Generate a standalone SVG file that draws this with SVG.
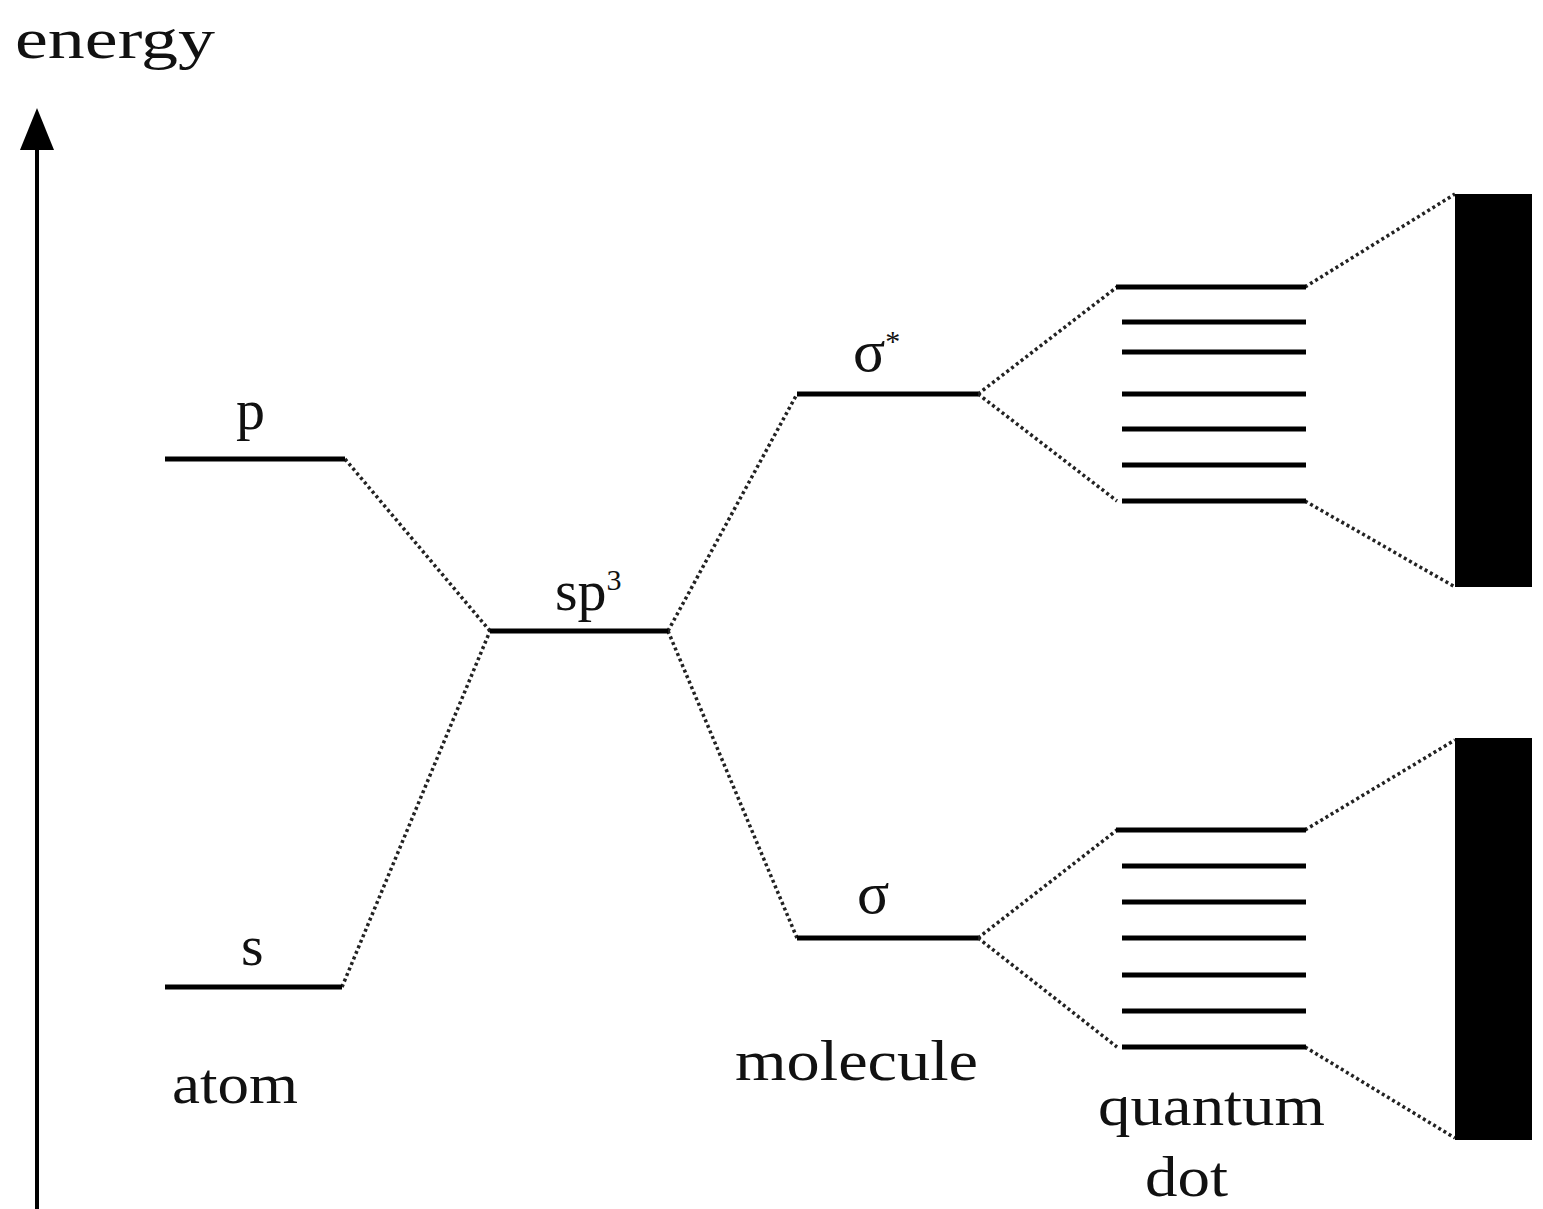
<svg xmlns="http://www.w3.org/2000/svg" width="1543" height="1209" viewBox="0 0 1543 1209">
<style>
text{font-family:"Liberation Serif","Times New Roman",serif;fill:#111;}
.lvl{stroke:#000;stroke-width:5;fill:none;}
.dot{stroke:#222;stroke-width:3.5;stroke-dasharray:3 3;fill:none;}
.band{fill:#000;}
</style>
<rect width="1543" height="1209" fill="#fff"/>
<g id="axis">
<line x1="37" y1="1209" x2="37" y2="140" stroke="#000" stroke-width="4"/>
<polygon points="37,108 20,150 54,150" fill="#000"/>
<text x="15" y="58" font-size="58" textLength="200" lengthAdjust="spacingAndGlyphs">energy</text>
</g>
<g id="connectors">
<line class="dot" x1="345" y1="459" x2="490" y2="631"/>
<line class="dot" x1="342" y1="987" x2="490" y2="631"/>
<line class="dot" x1="668" y1="631" x2="797" y2="394"/>
<line class="dot" x1="668" y1="631" x2="797" y2="938"/>
<line class="dot" x1="978" y1="394" x2="1117" y2="287"/>
<line class="dot" x1="978" y1="394" x2="1117" y2="501"/>
<line class="dot" x1="1305" y1="287" x2="1455" y2="194"/>
<line class="dot" x1="1305" y1="501" x2="1455" y2="587"/>
<line class="dot" x1="978" y1="938" x2="1117" y2="830"/>
<line class="dot" x1="978" y1="938" x2="1117" y2="1047"/>
<line class="dot" x1="1305" y1="830" x2="1455" y2="740"/>
<line class="dot" x1="1305" y1="1047" x2="1455" y2="1138"/>
</g>
<g id="atom-p">
<line class="lvl" x1="165" y1="459" x2="345" y2="459"/>
<text x="236" y="429" font-size="58">p</text>
</g>
<g id="atom-s">
<line class="lvl" x1="165" y1="987" x2="342" y2="987"/>
<text x="241" y="965" font-size="58">s</text>
</g>
<g id="sp3">
<line class="lvl" x1="490" y1="631" x2="668" y2="631"/>
<text x="555" y="610" font-size="58">sp<tspan font-size="30" dy="-20">3</tspan></text>
</g>
<g id="sigma-star">
<line class="lvl" x1="797" y1="394" x2="978" y2="394"/>
<text x="853" y="371" font-size="60">σ<tspan font-size="30" dy="-20">*</tspan></text>
</g>
<g id="sigma">
<line class="lvl" x1="797" y1="938" x2="978" y2="938"/>
<text x="857" y="913" font-size="60">σ</text>
</g>
<g id="qd-upper">
<line class="lvl" x1="1116" y1="287" x2="1306" y2="287"/>
<line class="lvl" x1="1122" y1="322" x2="1306" y2="322"/>
<line class="lvl" x1="1122" y1="352" x2="1306" y2="352"/>
<line class="lvl" x1="1122" y1="394" x2="1306" y2="394"/>
<line class="lvl" x1="1122" y1="429" x2="1306" y2="429"/>
<line class="lvl" x1="1122" y1="465" x2="1306" y2="465"/>
<line class="lvl" x1="1122" y1="501" x2="1306" y2="501"/>
</g>
<g id="qd-lower">
<line class="lvl" x1="1116" y1="830" x2="1306" y2="830"/>
<line class="lvl" x1="1122" y1="866" x2="1306" y2="866"/>
<line class="lvl" x1="1122" y1="902" x2="1306" y2="902"/>
<line class="lvl" x1="1122" y1="938" x2="1306" y2="938"/>
<line class="lvl" x1="1122" y1="975" x2="1306" y2="975"/>
<line class="lvl" x1="1122" y1="1011" x2="1306" y2="1011"/>
<line class="lvl" x1="1122" y1="1047" x2="1306" y2="1047"/>
</g>
<g id="band-upper"><rect class="band" x="1455" y="194" width="77" height="393"/></g>
<g id="band-lower"><rect class="band" x="1455" y="738" width="77" height="402"/></g>
<g id="labels">
<text x="172" y="1103" font-size="58" textLength="126" lengthAdjust="spacingAndGlyphs">atom</text>
<text x="735" y="1080" font-size="58" textLength="243" lengthAdjust="spacingAndGlyphs">molecule</text>
<text x="1098" y="1125" font-size="58" textLength="227" lengthAdjust="spacingAndGlyphs">quantum</text>
<text x="1145" y="1196" font-size="58" textLength="83" lengthAdjust="spacingAndGlyphs">dot</text>
</g>
</svg>
